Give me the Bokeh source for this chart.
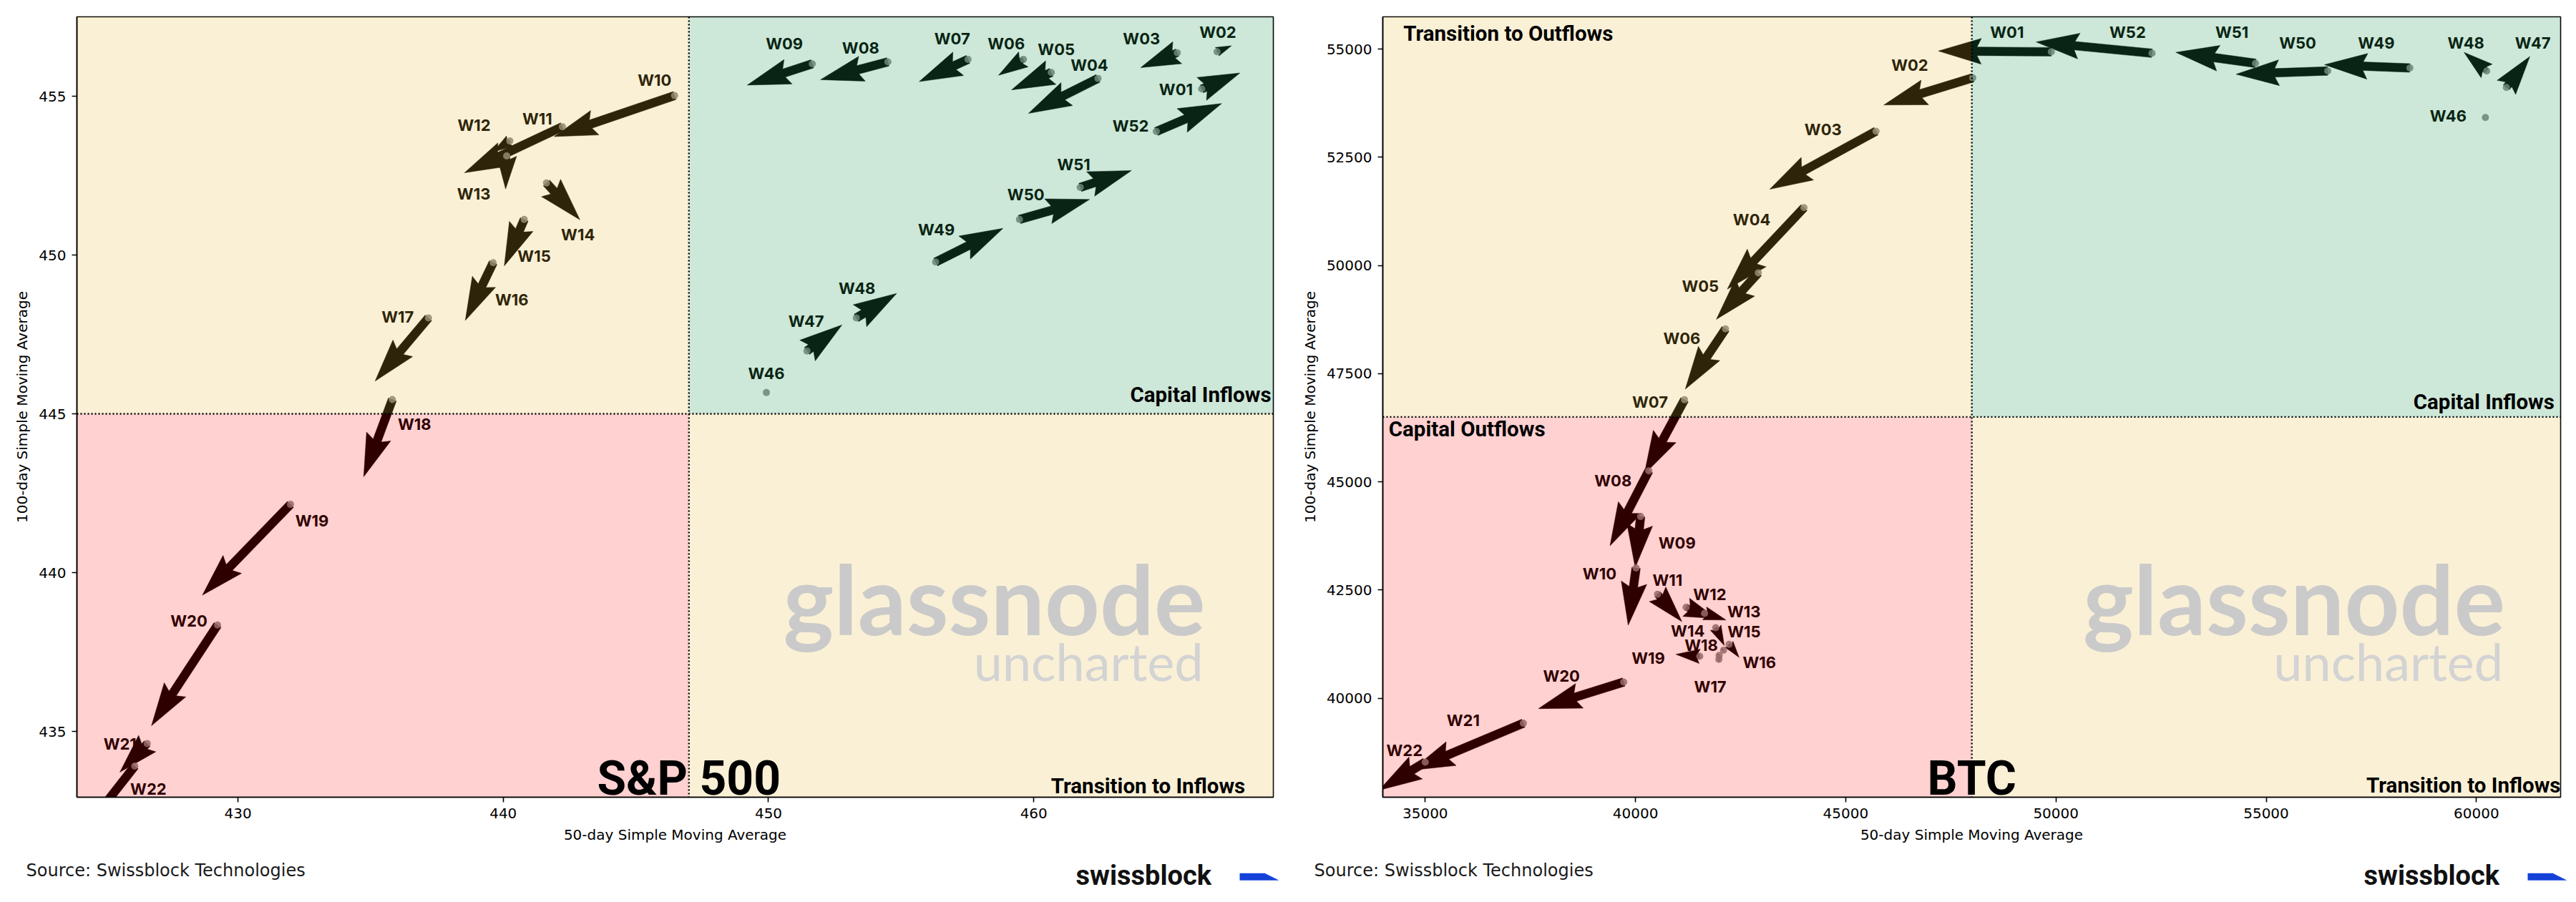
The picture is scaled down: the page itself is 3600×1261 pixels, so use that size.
import numpy as np
from bokeh.plotting import figure
from bokeh.models import Range1d, FixedTicker, PrintfTickFormatter, Span, Label, ColumnDataSource
from bokeh.layouts import column, row
from bokeh.embed import file_html
from bokeh.resources import INLINE
from bokeh.core.properties import value

# ---------------- data ----------------
weeks = ["W46", "W47", "W48", "W49", "W50", "W51", "W52",
         "W01", "W02", "W03", "W04", "W05", "W06", "W07", "W08", "W09", "W10",
         "W11", "W12", "W13", "W14", "W15", "W16", "W17", "W18", "W19", "W20",
         "W21", "W22"]

# S&P 500: 50-day SMA (x), 100-day SMA (y), weekly change vector (u, v)
spx_sma50 = [449.92, 451.45, 453.31, 456.30, 459.46, 461.75, 464.62,
             466.33, 466.91, 465.41, 462.42, 460.66, 459.61, 457.52, 454.50, 451.65, 446.46,
             442.23, 440.25, 440.13, 441.63, 440.79, 439.62, 437.18, 435.82, 431.98, 429.23,
             426.58, 426.11]
spx_sma100 = [445.67, 446.98, 448.02, 449.78, 451.12, 452.13, 453.89,
              455.23, 456.40, 456.37, 455.56, 455.75, 456.16, 456.16, 456.08, 456.02, 455.02,
              454.04, 453.59, 453.12, 452.27, 451.12, 449.76, 448.02, 445.45, 442.15, 438.35,
              434.62, 433.91]
spx_d50 = [0.0, 1.32, 1.52, 2.54, 2.64, 1.93, 2.46,
           1.44, 0.54, -1.38, -2.62, -1.50, -0.94, -1.84, -2.54, -2.45, -4.54,
           -3.69, -0.64, -0.04, 1.26, -0.75, -1.05, -2.01, -1.08, -3.32, -2.49,
           -1.03, -3.00]
spx_d100 = [0.0, 0.82, 0.77, 1.06, 0.63, 0.53, 0.88,
            0.50, 0.19, -0.47, -1.10, -0.55, -0.50, -0.70, -0.56, -0.67, -1.29,
            -1.45, -0.35, -1.04, -1.16, -1.46, -1.82, -1.99, -2.43, -2.86, -3.17,
            -0.90, -3.20]

# BTC
btc_sma50 = [60214, 60713, 60245, 58418, 56464, 54746, 52284,
             49891, 48022, 45721, 44008, 42922, 42141, 41165, 40317, 40122, 40014,
             40525, 41205, 41643, 41908, 42226, 42095, 41983, 41990, 41529, 39720,
             37333, 35000]
btc_sma100 = [53418, 54114, 54494, 54563, 54494, 54671, 54904,
              54937, 54335, 53102, 51336, 49830, 48534, 46897, 45256, 44199, 43011,
              42404, 42101, 41962, 41632, 41247, 41109, 40900, 40990, 40970, 40375,
              39423, 38524]
btc_d50 = [0, 558, -538, -2032, -2178, -1895, -2755,
           -2687, -2115, -2528, -1824, -999, -956, -956, -922, -129, -187,
           579, 720, 510, 204, 238, -40, 0, -40, -567, -2028,
           -2658, -1100]
btc_d100 = [0, 714, 430, 76, -76, 253, 260,
            18, -627, -1342, -1885, -1075, -1392, -1719, -1731, -1177, -1323,
            -633, -260, -154, -413, -303, 40, -50, 30, 45, -615,
            -1086, -650]

# label offsets (screen px, y downwards)
spx_lab_dx = [0, -1, 1, 1, 9, -9, -36, -36, 1, -50, -12, 7, -24, -22, -38, -39, -28,
              -35, -50, -46, 44, 14, 26, -43, 31, 30, -40, -38, 19]
spx_lab_dy = [-27, -42, -41, -45, -35, -32, -8, 1, -27, -20, -19, -32, -22, -29, -20, -28, -22,
              -11, -22, 53, 72, 51, 52, -1, 34, 23, -6, 1, 32]
btc_lab_dx = [-52, 37, -29, -47, -42, -33, -34, -62, -88, -74, -73, -81, -61, -48, -50, 51, -51,
              14, 33, 55, -39, 21, 50, -12, -25, -72, -87, -84, -29]
btc_lab_dy = [-2, -62, -39, -35, -39, -43, -29, -27, -18, -2, 17, 19, 13, 3, 14, 37, 8,
              -20, -18, -2, 5, -18, 17, 38, -14, 3, -8, -4, -16]

# ---------------- styles ----------------
YELLOW, GREEN, RED = "#e6b432", "#289655", "#ff0000"
A_YELLOW, A_GREEN, A_RED = 0.20, 0.23, 0.18
FIG_W, FIG_H = 1800, 1190
TOP, BOTTOM = 23, 76
SHAFT_W = 12.0


def arrow_polys(xs, ys, us, vs, kx, ky, w=SHAFT_W):
    HL, HAL, HW, MINSH = 5.0, 4.5, 3.0, 5.0
    PX, PY = [], []
    for x, y, u, v in zip(xs, ys, us, vs):
        su, sv = u * kx, v * ky
        L = float(np.hypot(su, sv))
        if L == 0:
            continue
        Lw = L / w
        ay = np.array([0.5, 0.5, HW / 2, 0.0, -HW / 2, -0.5, -0.5])
        if Lw >= MINSH:
            ax = np.array([0.0, Lw - HAL, Lw - HL, Lw, Lw - HL, Lw - HAL, 0.0])
        else:
            s = Lw / MINSH
            ax = np.array([0.0, MINSH - HAL, MINSH - HL, MINSH, MINSH - HL, MINSH - HAL, 0.0]) * s
            ay = ay * s
        c, sn = su / L, sv / L
        gx = (ax * c - ay * sn) * w
        gy = (ax * sn + ay * c) * w
        PX.append(list(x + gx / kx))
        PY.append(list(y + gy / ky))
    return PX, PY


def panel(xs, ys, us, vs, ldx, ldy, xr, yr, xdiv, ydiv, xticks, yticks, mleft, mright,
          quad_labels, big, big_y, wm):
    p = figure(width=FIG_W, height=FIG_H, x_range=Range1d(*xr), y_range=Range1d(*yr),
               output_backend="svg", toolbar_location=None,
               min_border_left=mleft, min_border_right=mright,
               min_border_top=TOP, min_border_bottom=BOTTOM,
               x_axis_label="50-day Simple Moving Average",
               y_axis_label="100-day Simple Moving Average",
               background_fill_color="white", border_fill_color="white")
    p.grid.visible = False
    p.outline_line_color = "black"
    p.outline_line_width = 1.6
    fw = FIG_W - mleft - mright
    fh = FIG_H - TOP - BOTTOM
    kx = fw / (xr[1] - xr[0])
    ky = fh / (yr[1] - yr[0])

    PX, PY = arrow_polys(xs, ys, us, vs, kx, ky)
    p.patches(xs=PX, ys=PY, fill_color="black", line_color="black", line_width=0.5)
    p.scatter(xs, ys, size=10, fill_color="#808080", line_color=None, fill_alpha=0.85)
    src = ColumnDataSource(dict(x=xs, y=ys, t=weeks, dx=ldx, dy=ldy))
    p.text(x="x", y="y", text="t", x_offset="dx", y_offset="dy", source=src,
           text_font=value("Inter"), text_font_style="bold", text_font_size="22px",
           text_align="center", text_baseline="middle", text_color="black")

    # translucent quadrant overlays drawn on top of the trajectory
    x0, x1 = xr
    y0, y1 = yr
    p.quad(left=[x0, xdiv, x0, xdiv], right=[xdiv, x1, xdiv, x1],
           bottom=[ydiv, ydiv, y0, y0], top=[y1, y1, ydiv, ydiv],
           fill_color=[YELLOW, GREEN, RED, YELLOW],
           fill_alpha=[A_YELLOW, A_GREEN, A_RED, A_YELLOW], line_color=None)

    for loc, dim in ((xdiv, "height"), (ydiv, "width")):
        p.add_layout(Span(location=loc, dimension=dim, line_color="black",
                          line_width=2.4, line_dash="2 3"))

    for (txt, lx, ly, al) in quad_labels:
        p.add_layout(Label(x=lx, y=ly, text=txt, text_align=al, text_baseline="middle",
                           text_font="Roboto", text_font_style="bold",
                           text_font_size="29.5px", text_color="black"))
    p.add_layout(Label(x=xdiv, y=big_y, text=big, text_align="center",
                       text_baseline="middle", text_font="Roboto",
                       text_font_style="bold", text_font_size="66px", text_color="black"))
    (gx, gy, ux, uy) = wm
    p.add_layout(Label(x=gx, y=gy, text="glassnode", text_align="right",
                       text_baseline="middle", text_font="Lato", text_font_style="bold",
                       text_font_size="134px", text_color="#cacaca"))
    p.add_layout(Label(x=ux, y=uy, text="uncharted", text_align="right",
                       text_baseline="middle", text_font="Lato",
                       text_font_size="72px", text_color="#d3d3d3"))

    for ax in (p.xaxis[0], p.yaxis[0]):
        ax.axis_line_color = "black"
        ax.axis_line_width = 1.6
        ax.major_tick_line_color = "black"
        ax.major_tick_line_width = 1.6
        ax.major_tick_out = 7
        ax.major_tick_in = 0
        ax.minor_tick_out = 0
        ax.minor_tick_in = 0
        ax.major_label_text_font = "DejaVu Sans"
        ax.major_label_text_font_size = "20px"
        ax.major_label_text_color = "black"
        ax.axis_label_text_font = "DejaVu Sans"
        ax.axis_label_text_font_size = "20px"
        ax.axis_label_text_font_style = "normal"
        ax.axis_label_text_color = "black"
        ax.major_label_standoff = 8
        ax.axis_label_standoff = 8
        ax.formatter = PrintfTickFormatter(format="%d")
    p.xaxis[0].ticker = FixedTicker(ticks=xticks)
    p.yaxis[0].ticker = FixedTicker(ticks=yticks)
    return p


p1 = panel(spx_sma50, spx_sma100, spx_d50, spx_d100, spx_lab_dx, spx_lab_dy,
           (423.93, 469.03), (432.93, 457.5), 447.0, 445.0,
           [430, 440, 450, 460], [435, 440, 445, 450, 455], 107, 21,
           [("Capital Inflows", 468.95, 445.60, "right"),
            ("Transition to Inflows", 467.97, 433.29, "right")],
           "S&P 500", 433.51, (466.47, 439.19, 466.39, 437.22))

p2 = panel(btc_sma50, btc_sma100, btc_d50, btc_d100, btc_lab_dx, btc_lab_dy,
           (33991, 62003), (37714, 55745), 48000, 46500,
           [35000, 40000, 45000, 50000, 55000, 60000],
           [40000, 42500, 45000, 47500, 50000, 52500, 55000], 132, 22,
           [("Capital Inflows", 61856, 46845, "right"),
            ("Transition to Inflows", 62003, 37986, "right"),
            ("Transition to Outflows", 34479, 55352, "left"),
            ("Capital Outflows", 34132, 46211, "left")],
           "BTC", 38143, (60684, 42313, 60636, 40866))

# ---------------- footer ----------------
FH = 1261 - FIG_H
f = figure(width=3600, height=FH, x_range=Range1d(0, 3600), y_range=Range1d(FH, 0),
           output_backend="svg", toolbar_location=None, x_axis_type=None, y_axis_type=None,
           min_border=0, outline_line_color=None, background_fill_color="white",
           border_fill_color="white")
f.grid.visible = False
f.text(x=[36, 1836], y=[26.5, 26.5], text=["Source: Swissblock Technologies"] * 2,
       text_font=value("DejaVu Sans"), text_font_size="24px", text_align="left",
       text_baseline="middle", text_color="#1a1a1a")
f.text(x=[1503, 3303], y=[33, 33], text=["swissblock"] * 2,
       text_font=value("Roboto"), text_font_style="bold", text_font_size="38px",
       text_align="left", text_baseline="middle", text_color="#111111")
f.patches(xs=[[1732, 1767, 1787, 1732], [3532, 3567, 3587, 3532]],
          ys=[[30.3, 30.3, 40.2, 40.2], [30.3, 30.3, 40.2, 40.2]],
          fill_color="#1442d8", line_color=None)

layout = column(row(p1, p2), f)
open("out.html", "w").write(file_html(layout, INLINE))
